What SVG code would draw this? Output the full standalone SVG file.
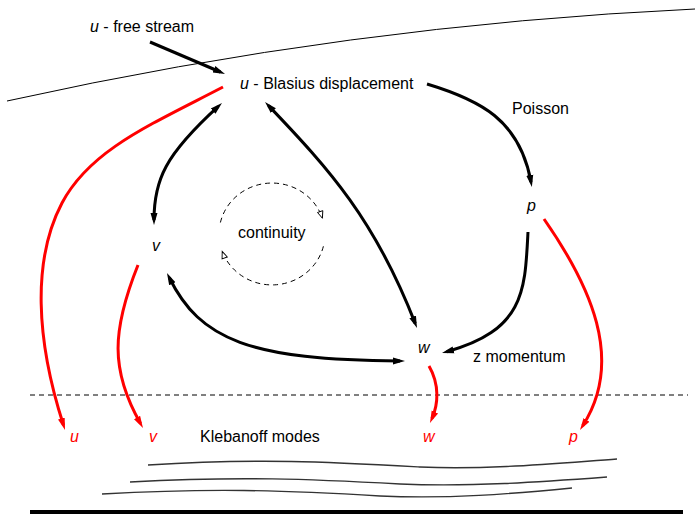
<svg xmlns="http://www.w3.org/2000/svg" width="695" height="516" viewBox="0 0 695 516">
<style>
text{font-family:"Liberation Sans",Arial,sans-serif;font-size:16px;fill:#000}
.it{font-style:italic}
.red{fill:#ff0000}
.blk{fill:none;stroke:#000;stroke-width:3}
.rd{fill:none;stroke:#ff0000;stroke-width:3}
.thin{fill:none;stroke:#000;stroke-width:1}
.kl{fill:none;stroke:#333;stroke-width:1.4}
.dash{fill:none;stroke:#000;stroke-width:1;stroke-dasharray:5,4}
</style>
<defs>
<marker id="ab" markerUnits="userSpaceOnUse" markerWidth="14" markerHeight="10" viewBox="0 -5 14 10" refX="7" refY="0" orient="auto-start-reverse">
<path d="M0,-3.5 L12,0 L0,3.5 Z" fill="#000"/>
</marker>
<marker id="ar" markerUnits="userSpaceOnUse" markerWidth="14" markerHeight="10" viewBox="0 -5 14 10" refX="7" refY="0" orient="auto">
<path d="M0,-3.5 L12,0 L0,3.5 Z" fill="#ff0000"/>
</marker>
<marker id="ao" markerUnits="userSpaceOnUse" markerWidth="10" markerHeight="10" viewBox="-1 -5 10 10" refX="7" refY="0" orient="auto">
<path d="M0,-2.8 L7,0 L0,2.8 Z" fill="#fff" stroke="#000" stroke-width="0.9"/>
</marker>
</defs>

<g id="background">
<path class="thin" d="M7,101 Q350,25 695,9"/>
<line class="dash" x1="30" y1="395" x2="688" y2="395"/>
<path class="kl" d="M148,465 C260,458 330,462 420,467 C490,470 560,463 617,459"/>
<path class="kl" d="M130,482 C240,476 310,479 400,484 C470,487 540,482 607,477"/>
<path class="kl" d="M102,494 C210,488 280,490 380,496 C450,499 510,494 572,488"/>
<line x1="30" y1="512" x2="683" y2="512" stroke="#000" stroke-width="4"/>
</g>

<g id="connectors">
<path class="blk" d="M150,42 L220.4,72" marker-end="url(#ab)"/>
<path class="rd" d="M223,87 C150,125 90,150 62,203 C32,260 36,340 63.5,425.2" marker-end="url(#ar)"/>
<path class="rd" d="M138,265 C112,330 110,370 140.5,423.6" marker-end="url(#ar)"/>
<path class="rd" d="M429,366 C440,385 438,405 432,418.4" marker-end="url(#ar)"/>
<path class="rd" d="M544,219 C590,285 625,360 582.7,425.8" marker-end="url(#ar)"/>
<path class="blk" d="M427,84 C480,100 520,120 531,182" marker-end="url(#ab)"/>
<path class="blk" d="M528,232 C525,290 525,330 446.8,351.7" marker-end="url(#ab)"/>
<path class="blk" d="M218.3,106.4 C165,155 154,180 154,220" marker-start="url(#ab)" marker-end="url(#ab)"/>
<path class="blk" d="M268.5,105.6 C330,170 375,220 415.2,323.4" marker-start="url(#ab)" marker-end="url(#ab)"/>
<path class="blk" d="M169.2,277.5 C200,340 250,360 400,361" marker-start="url(#ab)" marker-end="url(#ab)"/>
<path class="dash" d="M220.4,222.5 A53,51 0 0 1 322.4,218.2" marker-end="url(#ao)"/>
<path class="dash" d="M323.4,246.3 A53,51 0 0 1 222.2,251.4" marker-end="url(#ao)"/>
</g>

<g id="node-free-stream"><text x="90" y="32"><tspan class="it">u</tspan> - free stream</text></g>
<g id="node-blasius"><text x="240" y="89"><tspan class="it">u</tspan> - Blasius displacement</text></g>
<g id="label-poisson"><text x="512" y="114">Poisson</text></g>
<g id="node-p"><text class="it" x="527" y="211">p</text></g>
<g id="node-v"><text class="it" x="152" y="251">v</text></g>
<g id="label-continuity"><text x="238" y="238">continuity</text></g>
<g id="node-w"><text class="it" x="418" y="353">w</text></g>
<g id="label-z-momentum"><text x="473" y="362">z momentum</text></g>
<g id="node-u-mode"><text class="it red" x="70" y="442">u</text></g>
<g id="node-v-mode"><text class="it red" x="149" y="442">v</text></g>
<g id="node-w-mode"><text class="it red" x="423" y="442">w</text></g>
<g id="node-p-mode"><text class="it red" x="569" y="442">p</text></g>
<g id="label-klebanoff"><text x="200" y="442">Klebanoff modes</text></g>
</svg>
